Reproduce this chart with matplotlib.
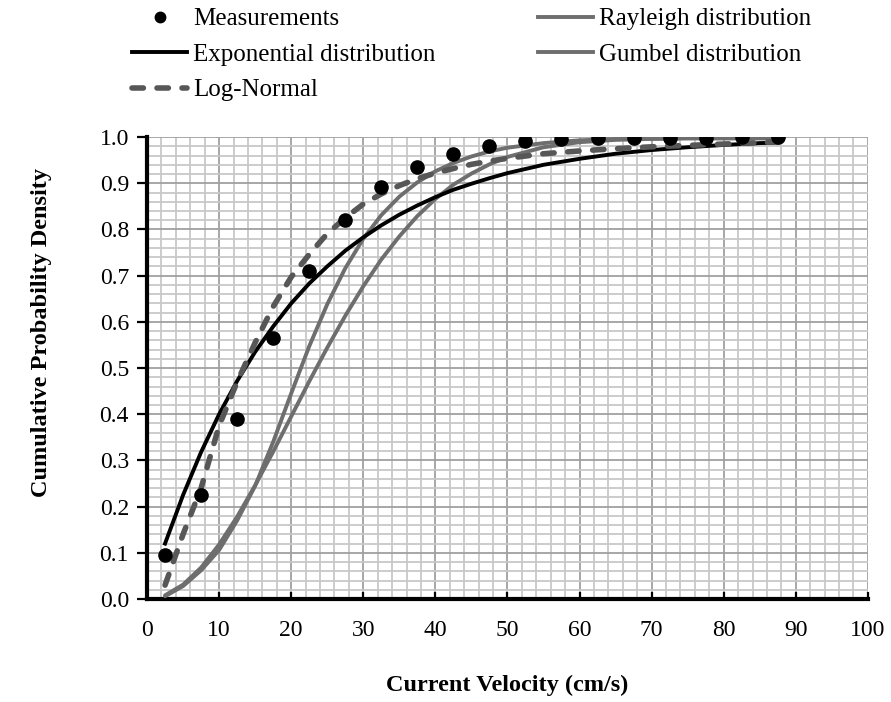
import matplotlib.pyplot as plt
from matplotlib.lines import Line2D
from matplotlib.ticker import MultipleLocator

plt.rcParams['font.family'] = ['Liberation Serif', 'DejaVu Serif']

# measured cumulative frequency at bin centres
meas_x = [2.5, 7.5, 12.5, 17.5, 22.5, 27.5, 32.5, 37.5, 42.5, 47.5,
          52.5, 57.5, 62.5, 67.5, 72.5, 77.5, 82.5, 87.5]
meas_y = [0.096, 0.226, 0.39, 0.566, 0.711, 0.82, 0.891, 0.936, 0.963, 0.98,
          0.991, 0.996, 0.997, 0.998, 0.999, 0.999, 1.0, 1.0]

# fitted curves
fit_x = [2.5, 5, 7.5, 10, 12.5, 15, 17.5, 20, 22.5, 25, 27.5, 30, 32.5, 35,
         37.5, 40, 42.5, 45, 47.5, 50, 55, 60, 65, 70, 75, 80, 85, 87.5]
expo_y = [0.12, 0.225, 0.318, 0.40, 0.472, 0.535, 0.59, 0.64, 0.683, 0.72,
          0.754, 0.783, 0.809, 0.832, 0.852, 0.87, 0.886, 0.899, 0.911, 0.922,
          0.94, 0.953, 0.964, 0.972, 0.978, 0.983, 0.987, 0.988]
lognorm_y = [0.03, 0.14, 0.24, 0.375, 0.47, 0.555, 0.633, 0.697, 0.746, 0.791,
             0.825, 0.855, 0.877, 0.895, 0.91, 0.922, 0.932, 0.941, 0.948, 0.954,
             0.964, 0.97, 0.975, 0.979, 0.982, 0.985, 0.988, 0.99]
rayleigh_y = [0.008, 0.031, 0.068, 0.118, 0.178, 0.246, 0.319, 0.395, 0.471, 0.544,
              0.613, 0.677, 0.735, 0.785, 0.829, 0.866, 0.897, 0.921, 0.941, 0.957,
              0.978, 0.989, 0.994, 0.996, 0.997, 0.997, 0.997, 0.997]
gumbel_y = [0.006, 0.028, 0.062, 0.106, 0.17, 0.245, 0.34, 0.445, 0.547, 0.638,
            0.716, 0.78, 0.831, 0.871, 0.902, 0.926, 0.944, 0.958, 0.969, 0.977,
            0.987, 0.993, 0.996, 0.997, 0.998, 0.998, 0.998, 0.998]

GRAY = "#6e6e6e"
DASH = "#575757"

fig = plt.figure(figsize=(8.91, 7.02), dpi=100)
ax = fig.add_axes([0.165, 0.1467, 0.809, 0.658])

ax.plot(fit_x, rayleigh_y, color=GRAY, lw=2.8, solid_capstyle="round", zorder=3)
ax.plot(fit_x, gumbel_y, color=GRAY, lw=2.8, solid_capstyle="round", zorder=3)
ax.plot(fit_x, expo_y, color="black", lw=2.8, zorder=4)
ax.plot(fit_x, lognorm_y, color=DASH, lw=4.0, dashes=(2.05, 2.45),
        dash_capstyle="round", zorder=5)
ax.plot(meas_x, meas_y, "o", color="black", ms=9.5, zorder=6)

ax.set_xlim(0, 100)
ax.set_ylim(0, 1.0)
ax.xaxis.set_major_locator(MultipleLocator(10))
ax.xaxis.set_minor_locator(MultipleLocator(2))
ax.yaxis.set_major_locator(MultipleLocator(0.1))
ax.yaxis.set_minor_locator(MultipleLocator(0.02))
ax.yaxis.set_major_formatter(plt.FormatStrFormatter("%.1f"))
ax.grid(which="major", color="#a0a0a0", lw=1.3, zorder=1)
ax.grid(which="minor", color="#c8c8c8", lw=1.3, zorder=0)
ax.set_axisbelow(True)

for s in ("top", "right"):
    ax.spines[s].set_visible(False)
for s in ("left", "bottom"):
    ax.spines[s].set_linewidth(3.0)
ax.tick_params(axis="x", which="major", direction="in", length=5, width=1.6,
               pad=15, labelsize=17)
ax.tick_params(axis="y", which="major", direction="out", length=7, width=1.6,
               pad=6, labelsize=17)
ax.tick_params(which="minor", length=0)

ax.set_xlabel("Current Velocity (cm/s)", fontsize=17.5, fontweight="bold")
ax.set_ylabel("Cumulative Probability Density", fontsize=17.5, fontweight="bold")
ax.xaxis.set_label_coords(0.5, -0.165)
ax.yaxis.set_label_coords(-0.132, 0.576)

handles = [
    Line2D([], [], ls="none", marker="o", color="black", ms=7.5),
    Line2D([], [], color="black", lw=2.8),
    Line2D([], [], color=DASH, lw=4.0, dashes=(2.05, 2.45), dash_capstyle="round"),
    Line2D([], [], color=GRAY, lw=2.8),
    Line2D([], [], color=GRAY, lw=2.8),
]
labels = ["Measurements", "Exponential distribution", "Log-Normal",
          "Rayleigh distribution", "Gumbel distribution"]
fig.legend(handles, labels, ncol=2, loc="upper left", bbox_to_anchor=(0.123, 1.021),
           frameon=False, fontsize=18, handlelength=2.2, handletextpad=0.24,
           columnspacing=4.1, labelspacing=0.52)

fig.savefig("out.png", dpi=100)
